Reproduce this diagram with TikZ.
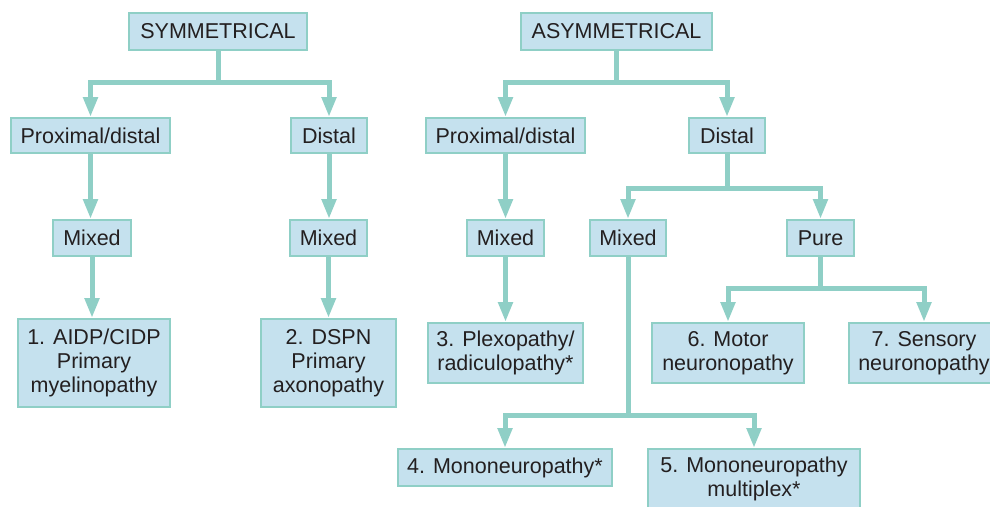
\documentclass[tikz,border=0pt]{standalone}
\usepackage{fontspec}
\setmainfont{Liberation Sans}
\usetikzlibrary{arrows.meta}
\definecolor{boxfill}{HTML}{C5E1EE}
\definecolor{tealline}{HTML}{8FCFC6}
\definecolor{txt}{HTML}{231F20}
\begin{document}
\begin{tikzpicture}[x=1pt,y=-1pt,
  bx/.style={draw=tealline, line width=2pt, fill=boxfill, text=txt, inner sep=0pt,
    align=center, font=\fontsize{21.5}{24}\selectfont},
  arr/.style={draw=tealline, line width=5pt, -{Triangle[width=14pt,length=20pt]}}]
\useasboundingbox (0,0) rectangle (990,506);
\clip (0,0) rectangle (990,506);

\coordinate (ya) at (0,82);
\coordinate (yd) at (0,188);
\coordinate (yp) at (0,288);
\coordinate (ym) at (0,415);

% connectors first (under boxes)
\node[bx, minimum width=178pt, minimum height=37pt] (sym) at (218,31.5) {SYMMETRICAL};
\node[bx, minimum width=191pt, minimum height=37pt] (asym) at (616.5,31.5) {ASYMMETRICAL};

\node[bx, minimum width=159pt, minimum height=35pt] (pdL) at (90.5,135.5) {Proximal/distal};
\node[bx, minimum width=76pt, minimum height=35pt] (dL) at (329,135.5) {Distal};
\node[bx, minimum width=159pt, minimum height=35pt] (pdR) at (505.5,135.5) {Proximal/distal};
\node[bx, minimum width=76pt, minimum height=35pt] (dR) at (727,135.5) {Distal};

\node[bx, minimum width=78pt, minimum height=36pt] (mL1) at (92,238) {Mixed};
\node[bx, minimum width=77pt, minimum height=36pt] (mL2) at (328.5,238) {Mixed};
\node[bx, minimum width=77pt, minimum height=36pt] (mR1) at (505.5,238) {Mixed};
\node[bx, minimum width=76pt, minimum height=36pt] (mR2) at (628,238) {Mixed};
\node[bx, minimum width=67pt, minimum height=36pt] (pure) at (820.5,238) {Pure};

\node[bx, minimum width=152pt, minimum height=88pt] (b1) at (94,363) {1. AIDP/CIDP\\Primary\\myelinopathy};
\node[bx, minimum width=135pt, minimum height=88pt] (b2) at (328.5,363) {2. DSPN\\Primary\\axonopathy};
\node[bx, minimum width=155pt, minimum height=60pt] (b3) at (505.5,353) {3. Plexopathy/\\radiculopathy*};
\node[bx, minimum width=152pt, minimum height=60pt] (b6) at (728,353) {6. Motor\\neuronopathy};
\node[bx, minimum width=150pt, minimum height=60pt] (b7) at (924,353) {7. Sensory\\neuronopathy};
\node[bx, minimum width=214pt, minimum height=37pt] (b4) at (505,467.5) {4. Mononeuropathy*};
\node[bx, minimum width=212pt, minimum height=60pt] (b5) at (754,479) {5. Mononeuropathy\\multiplex*};

\draw[arr] (sym.south) -- (sym.south |- ya) -| (pdL.north);
\draw[arr] (sym.south) -- (sym.south |- ya) -| (dL.north);
\draw[arr] (asym.south) -- (asym.south |- ya) -| (pdR.north);
\draw[arr] (asym.south) -- (asym.south |- ya) -| (dR.north);

\draw[arr] (pdL.south) -- (pdL.south |- mL1.north);
\draw[arr] (mL1.south) -- (mL1.south |- b1.north);
\draw[arr] (dL.south) -- (dL.south |- mL2.north);
\draw[arr] (mL2.south) -- (mL2.south |- b2.north);
\draw[arr] (pdR.south) -- (pdR.south |- mR1.north);
\draw[arr] (mR1.south) -- (mR1.south |- b3.north);

\draw[arr] (dR.south) -- (dR.south |- yd) -| (mR2.north);
\draw[arr] (dR.south) -- (dR.south |- yd) -| (pure.north);
\draw[arr] (pure.south) -- (pure.south |- yp) -| (b6.north);
\draw[arr] (pure.south) -- (pure.south |- yp) -| (b7.north);
\draw[arr] (mR2.south) -- (mR2.south |- ym) -| (b4.north);
\draw[arr] (mR2.south) -- (mR2.south |- ym) -| (b5.north);
\end{tikzpicture}
\end{document}
